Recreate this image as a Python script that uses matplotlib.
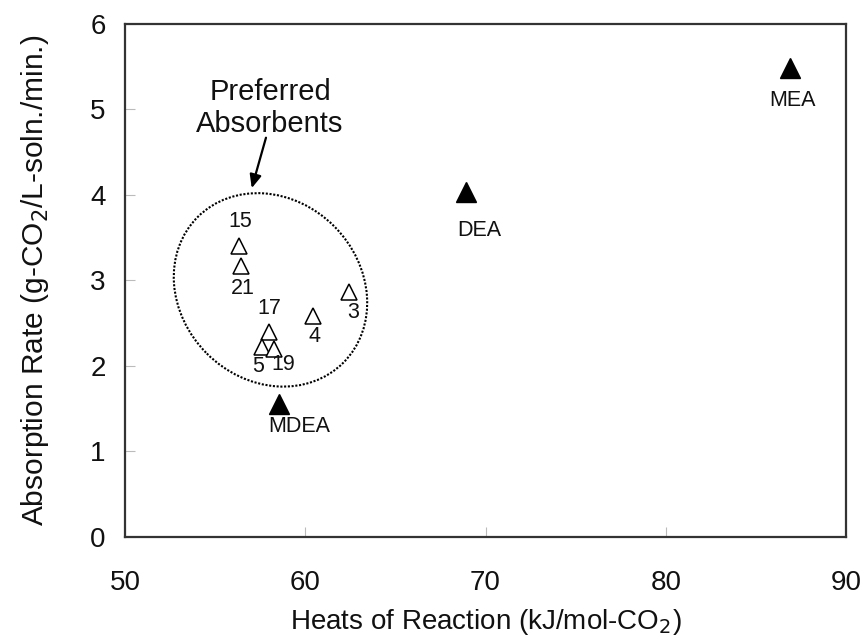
import matplotlib
matplotlib.use("Agg")
import matplotlib.pyplot as plt
from matplotlib.patches import Ellipse
from matplotlib.transforms import ScaledTranslation

plt.rcParams['font.family'] = ['Liberation Sans', 'DejaVu Sans']

# Candidate absorbents (open triangles)
cand_labels = ["15", "21", "3", "4", "17", "5", "19"]
cand_heat = [56.34, 56.44, 62.43, 60.45, 58.01, 57.58, 58.27]
cand_rate = [3.40, 3.17, 2.87, 2.58, 2.40, 2.22, 2.20]

# Benchmark amines (filled triangles)
ref_labels = ["MEA", "DEA", "MDEA"]
ref_heat = [86.9, 68.9, 58.55]
ref_rate = [5.48, 4.03, 1.56]

x_ticks = [50, 60, 70, 80, 90]
y_ticks = [0, 1, 2, 3, 4, 5, 6]

cand_offsets = {"15": (0.5, 18), "21": (1.2, -16.3), "3": (2.7, -15), "4": (0.7, -14.4),
                "17": (0, 17), "5": (-2.4, -13.7), "19": (6.7, -11.3)}
ref_offsets = {"MEA": (2, -23.4), "DEA": (10, -27.7), "MDEA": (14.8, -16.7)}

fig = plt.figure(figsize=(8.64, 6.43), dpi=100)
ax = fig.add_axes([0.1447, 0.1649, 0.8345, 0.7978])

ax.plot(cand_heat, cand_rate, linestyle="none", marker="^", markersize=11.5,
        markerfacecolor="white", markeredgecolor="black", markeredgewidth=1.1, zorder=3)
ax.plot(ref_heat, ref_rate, linestyle="none", marker="^", markersize=14.5,
        markerfacecolor="black", markeredgecolor="black", zorder=3)

for lab, x, y in zip(cand_labels, cand_heat, cand_rate):
    ax.annotate(lab, (x, y), xytext=cand_offsets[lab], textcoords="offset points",
                ha="center", va="center", fontsize=15.5, color="#111111")
for lab, x, y in zip(ref_labels, ref_heat, ref_rate):
    ax.annotate(lab, (x, y), xytext=ref_offsets[lab], textcoords="offset points",
                ha="center", va="center", fontsize=15.5, color="#111111")

# Dotted ellipse around the preferred group, sized in inches
ell_center = (58.07, 2.89)
ell = Ellipse((0, 0), width=2.06, height=1.80, angle=-45, fill=False,
              edgecolor="black", linewidth=1.5, linestyle=(0, (1, 0.8)),
              transform=fig.dpi_scale_trans + ScaledTranslation(*ell_center, ax.transData))
ax.add_patch(ell)

ax.text(58.05, 5.02, "Preferred\nAbsorbents", ha="center", va="center",
        fontsize=21, linespacing=1.2, color="#111111")
ax.annotate("", xy=(57.03, 4.08), xytext=(57.82, 4.67),
            arrowprops=dict(arrowstyle="-|>,head_length=0.8,head_width=0.35",
                            color="black", lw=1.6, shrinkA=0, shrinkB=0))

ax.set_xlim(50, 90)
ax.set_ylim(0, 6)
ax.set_xticks(x_ticks)
ax.set_yticks(y_ticks)
ax.tick_params(direction="in", length=7, width=0.8, color="#bbbbbb",
               labelsize=20, labelcolor="#111111")
ax.tick_params(axis="x", pad=24)
ax.tick_params(axis="y", pad=14)
for sp in ax.spines.values():
    sp.set_linewidth(1.6)
    sp.set_color("#333333")

ax.set_xlabel("Heats of Reaction (kJ/mol-CO$_2$)", fontsize=20, labelpad=8, color="#111111")
ax.set_ylabel("Absorption Rate (g-CO$_2$/L-soln./min.)", fontsize=21.5, labelpad=28, color="#111111")

fig.savefig("out.png", dpi=100)
